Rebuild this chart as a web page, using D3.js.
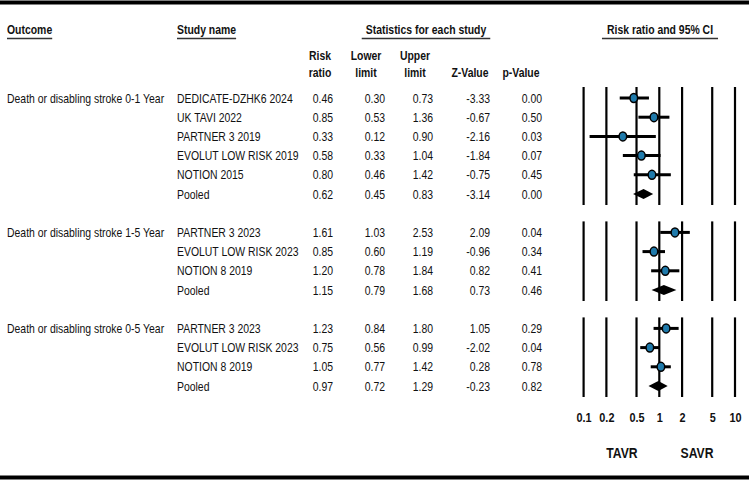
<!DOCTYPE html>
<meta charset="utf-8">
<title>Forest plot - death or disabling stroke</title>
<style>
  body { margin: 0; background: #fff; }
  text { font-family: "Liberation Sans", Arial, sans-serif; fill: #111; }
  .hdr { font-weight: bold; font-size: 12px; }
  .cell { font-size: 12px; }
  .vline { stroke: #000; stroke-width: 2.2px; }
  .ci { stroke: #000; stroke-width: 3px; }
  .dot { fill: #1f7aab; stroke: #000; stroke-width: 1.5px; }
  .diamond { fill: #000; }
</style>
<body>
<script src="https://cdn.jsdelivr.net/npm/d3@7"></script>
<script>

var width = 749,
    height = 480;

// horizontal squeeze of the text (the source is a condensed face)
var SX = 0.87;

var outcomes = ["Death or disabling stroke 0-1 Year",
                "Death or disabling stroke 1-5 Year",
                "Death or disabling stroke 0-5 Year"];

var studyGroup = [0, 0, 0, 0, 0, 0, 1, 1, 1, 1, 2, 2, 2, 2];
var studies = ["DEDICATE-DZHK6 2024", "UK TAVI 2022", "PARTNER 3 2019", "EVOLUT LOW RISK 2019", "NOTION 2015", "Pooled",
               "PARTNER 3 2023", "EVOLUT LOW RISK 2023", "NOTION 8 2019", "Pooled",
               "PARTNER 3 2023", "EVOLUT LOW RISK 2023", "NOTION 8 2019", "Pooled"];
var riskRatio  = [0.46, 0.85, 0.33, 0.58, 0.80, 0.62, 1.61, 0.85, 1.20, 1.15, 1.23, 0.75, 1.05, 0.97];
var lowerLimit = [0.30, 0.53, 0.12, 0.33, 0.46, 0.45, 1.03, 0.60, 0.78, 0.79, 0.84, 0.56, 0.77, 0.72];
var upperLimit = [0.73, 1.36, 0.90, 1.04, 1.42, 0.83, 2.53, 1.19, 1.84, 1.68, 1.80, 0.99, 1.42, 1.29];
var zValue     = [-3.33, -0.67, -2.16, -1.84, -0.75, -3.14, 2.09, -0.96, 0.82, 0.73, 1.05, -2.02, 0.28, -0.23];
var pValue     = [0.00, 0.50, 0.03, 0.07, 0.45, 0.00, 0.04, 0.34, 0.41, 0.46, 0.29, 0.04, 0.78, 0.82];

var tickValues = [0.1, 0.2, 0.5, 1, 2, 5, 10];
var tickLabels = ["0.1", "0.2", "0.5", "1", "2", "5", "10"];

// rows, with one blank row between outcome groups
var rows = studies.map(function(s, i) {
  return {
    name: s, group: studyGroup[i], row: i + studyGroup[i],
    rr: riskRatio[i], lo: lowerLimit[i], hi: upperLimit[i],
    z: zValue[i], p: pValue[i], pooled: s == "Pooled"
  };
});
var lastRow = d3.max(rows, function(d) { return d.row; });

var x = d3.scaleLog().domain([0.1, 10]).range([583.6, 735]);
var y = d3.scaleLinear().domain([0, lastRow]).range([98, 386]);

var svg = d3.select("body").append("svg")
  .attr("width", width)
  .attr("height", height);

function txt(g, px, py, s, cls, anchor) {
  return g.append("text")
    .attr("class", cls)
    .attr("transform", "translate(" + px + "," + py + ") scale(" + SX + ",1)")
    .attr("text-anchor", anchor || "start")
    .text(s);
}

// frame lines
svg.append("line").attr("x1", 0).attr("x2", width).attr("y1", 2.5).attr("y2", 2.5)
  .attr("stroke", "#000").attr("stroke-width", 4);
svg.append("line").attr("x1", 0).attr("x2", width).attr("y1", 477.5).attr("y2", 477.5)
  .attr("stroke", "#000").attr("stroke-width", 4);

// underlined headers
function header(px, s, anchor, pad) {
  var t = txt(svg, px, 34, s, "hdr", anchor);
  var w = t.node().getComputedTextLength() * SX;
  var x0 = anchor == "middle" ? px - w / 2 : px;
  svg.append("line")
    .attr("x1", x0 - pad).attr("x2", x0 + w + pad)
    .attr("y1", 38.5).attr("y2", 38.5)
    .attr("stroke", "#333").attr("stroke-width", 1.5);
}
header(7, "Outcome", "start", 0);
header(177, "Study name", "start", 0);
header(426, "Statistics for each study", "middle", 4);
header(660, "Risk ratio and 95% CI", "middle", 5);

// column sub headers
var cols = [
  {h: ["Risk", "ratio"], hx: 320, vx: 333, key: "rr"},
  {h: ["Lower", "limit"], hx: 366, vx: 385, key: "lo"},
  {h: ["Upper", "limit"], hx: 415, vx: 433, key: "hi"},
  {h: ["Z-Value"], hx: 470, vx: 490, key: "z"},
  {h: ["p-Value"], hx: 521, vx: 542, key: "p"}
];
cols.forEach(function(c) {
  if (c.h.length == 2) {
    txt(svg, c.hx, 60, c.h[0], "hdr", "middle");
    txt(svg, c.hx, 77, c.h[1], "hdr", "middle");
  } else {
    txt(svg, c.hx, 77, c.h[0], "hdr", "middle");
  }
});

// table body
var table = svg.append("g");
outcomes.forEach(function(o, gi) {
  var first = d3.min(rows.filter(function(d) { return d.group == gi; }), function(d) { return d.row; });
  txt(table, 7, y(first) + 4.5, o, "cell");
});
rows.forEach(function(d) {
  txt(table, 177, y(d.row) + 4.5, d.name, "cell");
  cols.forEach(function(c) {
    txt(table, c.vx, y(d.row) + 4.5, d[c.key].toFixed(2), "cell", "end");
  });
});

// plot: vertical reference lines per outcome group
var plot = svg.append("g");
var half = 11 / (y(1) - y(0));
outcomes.forEach(function(o, gi) {
  var gr = rows.filter(function(d) { return d.group == gi; });
  var r0 = d3.min(gr, function(d) { return d.row; });
  var r1 = d3.max(gr, function(d) { return d.row; });
  plot.selectAll(null).data(tickValues).enter().append("line")
    .attr("class", "vline")
    .attr("x1", function(t) { return x(t); })
    .attr("x2", function(t) { return x(t); })
    .attr("y1", y(r0 - half))
    .attr("y2", y(r1 + half));
});

var studyRows = rows.filter(function(d) { return !d.pooled; });
plot.selectAll(".ci").data(studyRows).enter().append("line")
  .attr("class", "ci")
  .attr("x1", function(d) { return x(d.lo); })
  .attr("x2", function(d) { return x(d.hi); })
  .attr("y1", function(d) { return y(d.row); })
  .attr("y2", function(d) { return y(d.row); });

plot.selectAll(".dot").data(studyRows).enter().append("ellipse")
  .attr("class", "dot")
  .attr("cx", function(d) { return x(d.rr); })
  .attr("cy", function(d) { return y(d.row); })
  .attr("rx", 3.8)
  .attr("ry", 4.5);

plot.selectAll(".diamond").data(rows.filter(function(d) { return d.pooled; })).enter().append("path")
  .attr("class", "diamond")
  .attr("d", function(d) {
    var cy = y(d.row);
    return "M" + x(d.lo) + "," + cy + "L" + x(d.rr) + "," + (cy - 5) +
           "L" + x(d.hi) + "," + cy + "L" + x(d.rr) + "," + (cy + 5) + "Z";
  });

// axis labels
var axis = d3.axisBottom(x)
  .tickValues(tickValues)
  .tickFormat(function(t, i) { return tickLabels[i]; })
  .tickSize(0);
var ax = svg.append("g")
  .attr("transform", "translate(0,410)")
  .call(axis);
ax.select(".domain").remove();
ax.selectAll("text")
  .attr("transform", "scale(" + SX + ",1)")
  .attr("x", function(t) { return 0; })
  .style("font-family", "'Liberation Sans', Arial, sans-serif")
  .style("font-size", "12.5px")
  .style("font-weight", "bold")
  .style("fill", "#111");

txt(svg, 622, 458, "TAVR", "hdr", "middle").style("font-size", "14px");
txt(svg, 697, 458, "SAVR", "hdr", "middle").style("font-size", "14px");

</script>
</body>
